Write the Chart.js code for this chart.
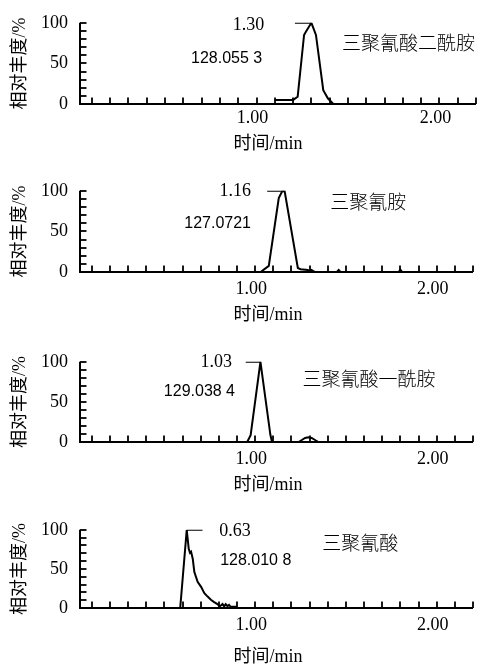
<!DOCTYPE html>
<html><head><meta charset="utf-8">
<script src="https://cdn.jsdelivr.net/npm/chart.js@4"></script>
<style>
html,body{margin:0;padding:0;background:#fff;width:479px;height:664px;overflow:hidden;position:relative}
canvas{position:absolute;left:0}
</style></head><body>
<canvas id="c0"></canvas><canvas id="c1"></canvas><canvas id="c2"></canvas><canvas id="c3"></canvas>
<script>
// ---------- data ----------
const compoundNames = ['三聚氰酸二酰胺', '三聚氰胺', '三聚氰酸一酰胺', '三聚氰酸'];
const peakTimeLabels = ['1.30', '1.16', '1.03', '0.63'];
const massLabels = ['128.055 3', '127.0721', '129.038 4', '128.010 8'];
const xTickLabels = ['1.00', '2.00'];
const yTickLabels = ['0', '50', '100'];
const xTitle = '时间/min';
const yTitle = '相对丰度/%';

// panel 1: 三聚氰酸二酰胺
const p1Time  = [1.10, 1.20, 1.225, 1.26, 1.27, 1.30, 1.325, 1.365, 1.39, 1.42];
const p1Abund = [5, 5, 9, 85, 89, 100, 85, 17, 7, 0];
const p1Marker = [1.21, 1.30];
// panel 2: 三聚氰胺
const p2Time  = [1.03, 1.075, 1.13, 1.148, 1.162, 1.235, 1.25, 1.29, 1.30, 1.31, 1.32, 1.33, 1.45, 1.46, 1.47, 1.79, 1.80, 1.81];
const p2Abund = [0, 7.5, 91, 99, 100, 5, 3.5, 2.5, 1, 2.5, 1, 0, 0, 2.5, 0, 0, 3, 0];
const p2Marker = [1.066, 1.162];
// panel 3: 三聚氰酸一酰胺
const p3Time  = [0.956, 0.975, 1.029, 1.084, 1.093, 1.239, 1.257, 1.275, 1.293, 1.311, 1.33, 1.348];
const p3Abund = [0, 8.6, 100, 8.6, 0, 0, 2.5, 5, 6, 5, 2.5, 0];
const p3Marker = [0.948, 1.029];
// panel 4: 三聚氰酸
const p4Time  = [0.587, 0.623, 0.634, 0.641, 0.647, 0.656, 0.665, 0.683, 0.702, 0.72, 0.738, 0.756, 0.774, 0.792, 0.805, 0.82, 0.829, 0.838, 0.847, 0.856, 0.865, 0.90];
const p4Abund = [0, 100, 75.6, 70.6, 72, 63, 46, 33.5, 27, 19, 14.6, 10.5, 7.5, 5, 2, 5, 2, 5, 2.5, 4, 1.5, 1.5];
const p4Marker = [0.623, 0.71];

const series = [
  {t: p1Time, v: p1Abund, m: p1Marker},
  {t: p2Time, v: p2Abund, m: p2Marker},
  {t: p3Time, v: p3Abund, m: p3Marker},
  {t: p4Time, v: p4Abund, m: p4Marker}
];

// ---------- layout (positions / styles) ----------
const panelLayout = [
  {plotTop: 21,  plotBottom: 104, tickPad: 3, titleDy: 40,
   peak: {t: 1.042, v: 97, align: 'right'}, mass: {t: 1.031, v: 56, align: 'right'}, name: {t: 1.468, v: 75}},
  {plotTop: 189, plotBottom: 272, tickPad: 6, titleDy: 43,
   peak: {t: 0.977, v: 100, align: 'right'}, mass: {t: 0.977, v: 59, align: 'right'}, name: {t: 1.414, v: 86}},
  {plotTop: 360, plotBottom: 442, tickPad: 6, titleDy: 43,
   peak: {t: 0.873, v: 100, align: 'right'}, mass: {t: 0.889, v: 63, align: 'right'}, name: {t: 1.261, v: 79}},
  {plotTop: 528, plotBottom: 608, tickPad: 6, titleDy: 49,
   peak: {t: 0.802, v: 98, align: 'left'}, mass: {t: 0.807, v: 61, align: 'left'}, name: {t: 1.37, v: 84}}
];
const PAD_TOP = 21, X_AREA = 60, Y_AREA = 80, TITLE_X = 268;
const SERIF = "'Liberation Serif', 'Noto Sans CJK SC', serif";
const CJK = "'Noto Sans CJK SC', 'Liberation Serif', sans-serif";

const axisPlugin = {
  id: 'axisDeco',
  afterDraw(chart) {
    const L = chart.options.plugins.axisDeco;
    const {ctx, chartArea: {left, right, top, bottom}, scales: {x, y}} = chart;
    ctx.save();
    ctx.strokeStyle = '#000';
    ctx.lineWidth = 1.8;
    x.ticks.forEach(tk => {
      const px = Math.round(x.getPixelForValue(tk.value));
      ctx.beginPath(); ctx.moveTo(px, bottom); ctx.lineTo(px, bottom - 6.5); ctx.stroke();
    });
    y.ticks.forEach(tk => {
      const py = Math.round(y.getPixelForValue(tk.value));
      ctx.beginPath(); ctx.moveTo(left, py); ctx.lineTo(left + 6.5, py); ctx.stroke();
    });
    ctx.lineWidth = 2;
    ctx.beginPath(); ctx.moveTo(left, top); ctx.lineTo(left, bottom); ctx.lineTo(right, bottom); ctx.stroke();

    ctx.fillStyle = '#000';
    ctx.textBaseline = 'middle';
    // peak time
    ctx.font = '18px ' + SERIF;
    ctx.textAlign = L.peak.align;
    ctx.fillText(L.peakText, x.getPixelForValue(L.peak.t), y.getPixelForValue(L.peak.v));
    // mass
    ctx.font = "16px 'Liberation Sans', sans-serif";
    ctx.textAlign = L.mass.align;
    ctx.fillText(L.massText, x.getPixelForValue(L.mass.t), y.getPixelForValue(L.mass.v));
    // compound name
    ctx.font = '300 19px ' + CJK;
    ctx.textAlign = 'left';
    ctx.fillText(L.nameText, x.getPixelForValue(L.name.t), y.getPixelForValue(L.name.v));
    // x title
    ctx.font = '18px ' + SERIF;
    ctx.textAlign = 'center';
    ctx.fillText(xTitle, TITLE_X, bottom + L.titleDy);
    // y title
    ctx.save();
    ctx.translate(20, (top + bottom) / 2);
    ctx.rotate(-Math.PI / 2);
    ctx.font = '18px ' + SERIF;
    ctx.textAlign = 'center';
    ctx.fillText(yTitle, 0, 0);
    ctx.restore();
    ctx.restore();
  }
};

series.forEach((s, i) => {
  const L = panelLayout[i];
  const cv = document.getElementById('c' + i);
  const h = PAD_TOP + (L.plotBottom - L.plotTop) + X_AREA;
  cv.width = 479; cv.height = h;
  cv.style.width = '479px'; cv.style.height = h + 'px';
  cv.style.top = (L.plotTop - PAD_TOP) + 'px';
  new Chart(cv, {
    type: 'line',
    data: {
      datasets: [
        {data: s.t.map((t, k) => ({x: t, y: s.v[k]})), borderColor: '#000', borderWidth: 2, pointRadius: 0, tension: 0, fill: false},
        {data: s.m.map(t => ({x: t, y: 100})), borderColor: '#000', borderWidth: 2, pointRadius: 0, fill: false}
      ]
    },
    options: {
      responsive: false, animation: false, events: [],
      layout: {padding: {top: PAD_TOP, right: 3, left: 0, bottom: 0}},
      plugins: {
        legend: {display: false}, tooltip: {enabled: false},
        axisDeco: Object.assign({}, L, {peakText: peakTimeLabels[i], massText: massLabels[i], nameText: compoundNames[i]})
      },
      scales: {
        x: {
          type: 'linear', min: 0.035, max: 2.2,
          afterFit: sc => { sc.height = X_AREA; },
          grid: {display: false, drawTicks: false}, border: {display: false},
          ticks: {
            stepSize: 0.1, autoSkip: false, maxRotation: 0, includeBounds: false,
            padding: L.tickPad, labelOffset: -4, color: '#000',
            font: {family: SERIF, size: 18},
            callback: v => { const f = xTickLabels.find(lb => Math.abs(parseFloat(lb) - v) < 1e-9); return f || ''; }
          }
        },
        y: {
          min: 0, max: 100,
          afterFit: sc => { sc.width = Y_AREA; },
          grid: {display: false, drawTicks: false}, border: {display: false},
          ticks: {
            stepSize: 10, autoSkip: false, padding: 12, color: '#000',
            font: {family: SERIF, size: 18},
            callback: v => { const f = yTickLabels.find(lb => Math.abs(parseFloat(lb) - v) < 1e-9); return f || ''; }
          }
        }
      }
    },
    plugins: [axisPlugin]
  });
});
</script>
</body></html>
